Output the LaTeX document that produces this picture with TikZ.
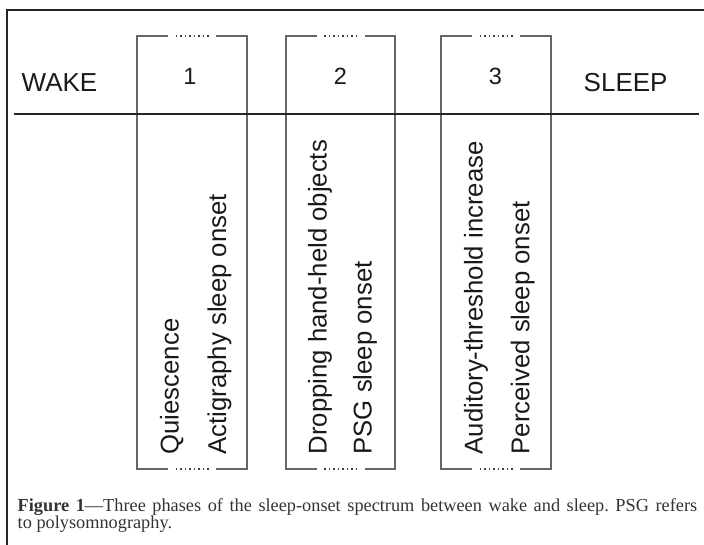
\documentclass[tikz,border=0pt]{standalone}
\usepackage{fontspec}
\setmainfont{Liberation Serif}
\newfontfamily\arialfam{Liberation Sans}
\frenchspacing
\begin{document}
\begin{tikzpicture}[x=1pt,y=1pt,
  frame/.style={line width=2pt, draw=black!85},
  rule/.style={line width=2.2pt, draw=black!85},
  boxline/.style={line width=1.1pt, draw=black!60},
  dotrow/.style={line width=1.6pt, draw=black!75, dash pattern=on 1.6pt off 2.9pt},
  lbl/.style={font=\arialfam\fontsize{25.7}{30}\selectfont, inner sep=0, anchor=base west, text=black!90},
  side/.style={lbl, font=\arialfam\fontsize{26}{30}\selectfont},
  num/.style={font=\arialfam\fontsize{23.5}{28}\selectfont, inner sep=0, anchor=base, text=black!90},
  vlbl/.style={lbl, rotate=90},
  captext/.style={font=\fontsize{18.3}{17}\selectfont, inner sep=0, anchor=base west, text=black!80}
]
\useasboundingbox (0,0) rectangle (704,544);
\draw[frame] (7,-2) -- (7,534) -- (706,534);
\foreach \l/\r/\c in {137/247/192, 286/395/340.5, 441/551/496} {
  \draw[boxline] ({\c-24},508) -- (\l,508) -- (\l,75) -- ({\c-24},75);
  \draw[boxline] ({\c+24},508) -- (\r,508) -- (\r,75) -- ({\c+24},75);
  \draw[dotrow] ({\c-16.5},508) -- ({\c+16.6},508);
  \draw[dotrow] ({\c-16.5},75) -- ({\c+16.6},75);
}
\coordinate (rl) at (14,430);
\coordinate (rr) at (699,430);
\draw[rule] (rl) -- (rr);
\node[side] (wake) at (21.5,452.5) {WAKE};
\node[side] (sleep) at (583.5,452.5) {SLEEP};
\node[num] (n1) at (190,459) {1};
\node[num] (n2) at (340.5,459) {2};
\node[num] (n3) at (495.5,459) {3};
\node[vlbl] (q) at (178.5,89.5) {Quiescence};
\node[vlbl] (a) at (226,89.5) {Actigraphy sleep onset};
\node[vlbl] (d) at (326.7,89.5) {Dropping hand-held objects};
\node[vlbl] (p) at (371.7,89.5) {PSG sleep onset};
\node[vlbl] (au) at (482.7,89.5) {Auditory-threshold increase};
\node[vlbl] (pe) at (529.3,89.5) {Perceived sleep onset};
\node[captext] (c1) at (17.5,32.5) {\makebox[679.5pt][s]{\textbf{Figure 1}—Three phases of the sleep-onset spectrum between wake and sleep. PSG refers}};
\node[captext] (c2) at (17.5,15.5) {to polysomnography.};
\end{tikzpicture}
\end{document}
